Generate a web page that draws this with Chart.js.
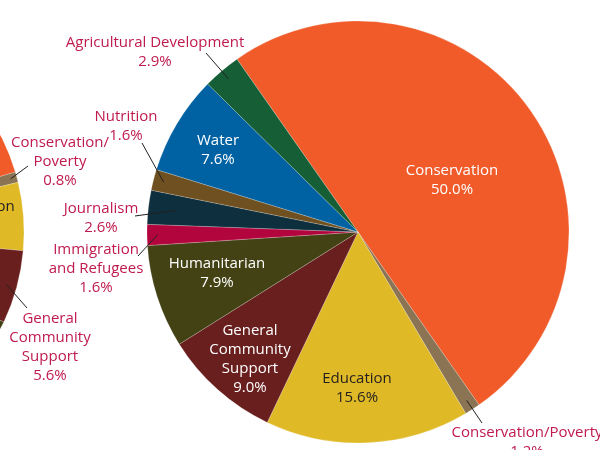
<!DOCTYPE html>
<html>
<head>
<meta charset="utf-8">
<script src="https://cdn.jsdelivr.net/npm/chart.js@4/dist/chart.umd.min.js"></script>
<style>
  html, body { margin: 0; padding: 0; background: #fff; overflow: hidden; }
  #wrap { position: relative; width: 600px; height: 450px; overflow: hidden; }
  #prevPie { position: absolute; left: -487px; top: 0; }
  #mainPie { position: absolute; left: 0; top: 0; }
</style>
</head>
<body>
<div id="wrap">
  <canvas id="prevPie" width="600" height="450"></canvas>
  <canvas id="mainPie" width="600" height="450"></canvas>
</div>
<script>
// grant areas, same order in both pies
var categories = [
    "Conservation",
    "Conservation/Poverty",
    "Education",
    "General\nCommunity\nSupport",
    "Humanitarian",
    "Immigration\nand Refugees",
    "Journalism",
    "Nutrition",
    "Water",
    "Agricultural Development"
];
var mainShares = [50.0, 1.2, 15.6, 9.0, 7.9, 1.6, 2.6, 1.6, 7.6, 2.9];
var prevShares = [60.6, 0.8, 5.2, 5.6, 10.4, 2.0, 3.1, 2.2, 6.8, 3.3];
var prevNames = categories.slice();
prevNames[1] = "Conservation/\nPoverty";

var colors = ["#f15a29", "#8a7453", "#dfb926", "#6a1f1f", "#434214",
              "#b3053d", "#0d2f3e", "#6f5020", "#0062a3", "#155e36"];

var crimson = "#bf1a4e";
var fontFamily = "'Open Sans', 'Noto Sans', sans-serif";

// label placement relative to the pie centre; lead = end of leader line
var mainLayout = [
    { x: 94, y: -52, color: "#fff" },
    { x: 169, y: 210, color: crimson, lead: [124, 191] },
    { x: -1, y: 156, color: "#231f20" },
    { x: -108, y: 127, color: "#fff" },
    { x: -141, y: 41, color: "#fff" },
    { x: -262, y: 37, color: crimson, lead: [-220, 24] },
    { x: -257, y: -14, color: crimson, lead: [-223, -16], k: 0.87 },
    { x: -232, y: -106, color: crimson, lead: [-216, -89] },
    { x: -140, y: -82, color: "#fff" },
    { x: -203, y: -180, color: crimson, lead: [-152, -179] }
];
var prevLayout = [
    null,
    { x: 247, y: -70, color: crimson, lead: [215, -66], k: 0.97 },
    { x: 167, y: -16, color: "#231f20" },
    { x: 237, y: 115, color: crimson, lead: [214, 76] },
    null, null, null, null, null, null
];

var sliceLabels = {
    id: "sliceLabels",
    afterDatasetsDraw: function (chart, args, opts) {
        var ctx = chart.ctx;
        var arcs = chart.getDatasetMeta(0).data;
        var values = chart.data.datasets[0].data;
        ctx.save();
        ctx.font = "15px " + fontFamily;
        ctx.textAlign = "center";
        ctx.textBaseline = "middle";
        arcs.forEach(function (arc, i) {
            var lay = opts.layout[i];
            if (!lay) return;
            var cx = arc.x, cy = arc.y;
            if (lay.lead) {
                var mid = (arc.startAngle + arc.endAngle) / 2;
                var rr = arc.outerRadius * (lay.k || 0.95);
                ctx.beginPath();
                ctx.moveTo(cx + Math.cos(mid) * rr, cy + Math.sin(mid) * rr);
                ctx.lineTo(cx + lay.lead[0], cy + lay.lead[1]);
                ctx.strokeStyle = "#231f20";
                ctx.lineWidth = 1;
                ctx.stroke();
            }
            var lines = opts.names[i].split("\n");
            lines.push(values[i].toFixed(1) + "%");
            var lh = 19;
            var top = cy + lay.y - (lines.length - 1) * lh / 2;
            ctx.fillStyle = lay.color;
            lines.forEach(function (t, j) {
                ctx.fillText(t, cx + lay.x, top + j * lh);
            });
        });
        ctx.restore();
    }
};

function makePie(id, shares, names, layout, rotation, padding) {
    return new Chart(document.getElementById(id).getContext("2d"), {
        type: "pie",
        data: {
            labels: categories,
            datasets: [{
                data: shares,
                backgroundColor: colors,
                borderColor: "rgba(255,255,255,0.35)",
                borderWidth: 0.6
            }]
        },
        options: {
            responsive: false,
            animation: false,
            rotation: rotation,
            radius: 211,
            layout: { padding: padding },
            plugins: {
                legend: { display: false },
                tooltip: { enabled: false },
                sliceLabels: { layout: layout, names: names }
            }
        },
        plugins: [sliceLabels]
    });
}

makePie("prevPie", prevShares, prevNames, prevLayout, -144.66, { top: 14 });
makePie("mainPie", mainShares, categories, mainLayout, -35, { left: 116, top: 14 });
</script>
</body>
</html>
